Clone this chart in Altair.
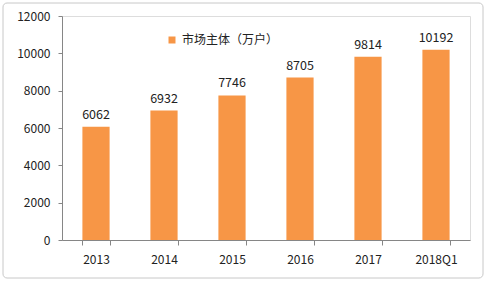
import altair as alt
import pandas as pd

years = ["2013", "2014", "2015", "2016", "2017", "2018Q1"]
values = [6062, 6932, 7746, 8705, 9814, 10192]
series = "市场主体（万户）"
y_ticks = [0, 2000, 4000, 6000, 8000, 10000, 12000]

df = pd.DataFrame({"year": years, "value": values, "series": [series] * len(years)})

FONT = "Noto Sans CJK SC"

x_enc = alt.X("year:N", sort=years, title=None,
              scale=alt.Scale(paddingInner=0.6, paddingOuter=0.3),
              axis=alt.Axis(labelAngle=0, labelFontSize=12, labelPadding=9,
                            domainColor="#868686", tickColor="#868686",
                            tickBand="extent", tickSize=5, labelColor="#222"))
y_enc = alt.Y("value:Q", title=None,
              scale=alt.Scale(domain=[0, 12000], nice=False),
              axis=alt.Axis(values=y_ticks, tickCount=7, grid=False, format="d",
                            labelOverlap=False, labelFontSize=12, labelPadding=8,
                            tickSize=4, domainColor="#868686", tickColor="#868686",
                            labelColor="#222"))

base = alt.Chart(df)

bars = base.mark_bar(color="#F79646").encode(
    x=x_enc,
    y=y_enc,
    fill=alt.Fill("series:N", scale=alt.Scale(range=["#F79646"]),
                  legend=alt.Legend(title=None, orient="none", legendX=104, legendY=18,
                                    symbolType="square", symbolSize=49,
                                    symbolStrokeWidth=0, labelFontSize=12,
                                    labelColor="#222", labelOffset=4)),
)

labels = base.mark_text(dy=-12, fontSize=12.5, color="#222", font=FONT).encode(
    x=x_enc,
    y=y_enc,
    text="value:Q",
)

border = alt.Chart(pd.DataFrame({"a": [0]})).mark_rect(
    fill=None, stroke="#C8C8C8", strokeWidth=1, cornerRadius=4
).encode(
    x=alt.value(-59), x2=alt.value(421), y=alt.value(-13), y2=alt.value(262)
)

chart = alt.layer(border, bars, labels).properties(
    width=408, height=224,
    autosize=alt.AutoSizeParams(type="none"),
    padding={"left": 62, "top": 16, "right": 16, "bottom": 41},
    background="white",
).configure_view(stroke=None).configure(font=FONT)

chart.save("out.html", embed_options={"renderer": "svg", "actions": False})
